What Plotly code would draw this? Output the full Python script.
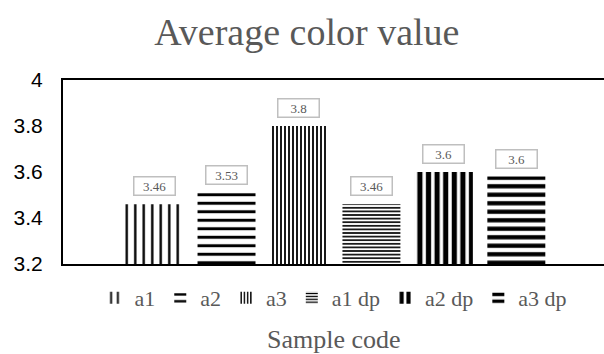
import plotly.graph_objects as go

categories = ["a1", "a2", "a3", "a1 dp", "a2 dp", "a3 dp"]
values = [3.46, 3.51, 3.80, 3.46, 3.60, 3.58]
labels = ["3.46", "3.53", "3.8", "3.46", "3.6", "3.6"]
y_ticks = [3.2, 3.4, 3.6, 3.8, 4.0]
y_tick_text = ["3.2", "3.4", "3.6", "3.8", "4"]

shapes = ["|", "-", "|", "-", "|", "-"]
psize = [8.5, 8.5, 4, 3.6, 8.6, 8.5]
solid = [0.28, 0.35, 0.45, 0.45, 0.6, 0.5]

fig = go.Figure()
for i, c in enumerate(categories):
    fig.add_trace(go.Bar(
        x=[c], y=[values[i]], name=c,
        marker=dict(color="white", line=dict(width=0),
                    pattern=dict(shape=shapes[i], fgcolor="black", bgcolor="white",
                                 size=psize[i], solidity=solid[i], fillmode="replace")),
    ))
    fig.add_annotation(x=c, y=values[i], text=labels[i], showarrow=False, yshift=18,
                       width=38, height=15,
                       font=dict(family="Liberation Serif", size=13, color="#595959"),
                       bordercolor="#BFBFBF", borderwidth=1.5, borderpad=1, bgcolor="white")

fig.add_annotation(x=0.5, xref="paper", y=-0.41, yref="paper", yanchor="middle",
                   text="Sample code", showarrow=False,
                   font=dict(family="Liberation Serif", size=26, color="#595959"))

fig.update_layout(
    width=604, height=354, margin=dict(l=63, r=0, t=80, b=90),
    paper_bgcolor="white", plot_bgcolor="white",
    barmode="overlay", bargap=0.2,
    title=dict(text="Average color value", x=0.508, xanchor="center", xref="container",
               y=0.91, yanchor="middle",
               font=dict(family="Liberation Serif", size=38, color="#595959")),
    showlegend=True,
    legend=dict(orientation="h", x=0.5, xanchor="center", y=-0.185, yanchor="middle",
                font=dict(family="Liberation Serif", size=22, color="#595959"),
                itemwidth=30, tracegroupgap=0),
    xaxis=dict(type="category", range=[-1.257, 6.21], showticklabels=False, ticks="",
               showline=True, linecolor="black", linewidth=2, mirror=True, showgrid=False),
    yaxis=dict(range=[3.2, 4.0], tickvals=y_ticks, ticktext=y_tick_text,
               showgrid=False, zeroline=False,
               showline=True, linecolor="black", linewidth=2, ticks="", ticklabelstandoff=14,
               tickfont=dict(family="Liberation Sans", size=21, color="black")),
)

fig.write_html("out.html")
